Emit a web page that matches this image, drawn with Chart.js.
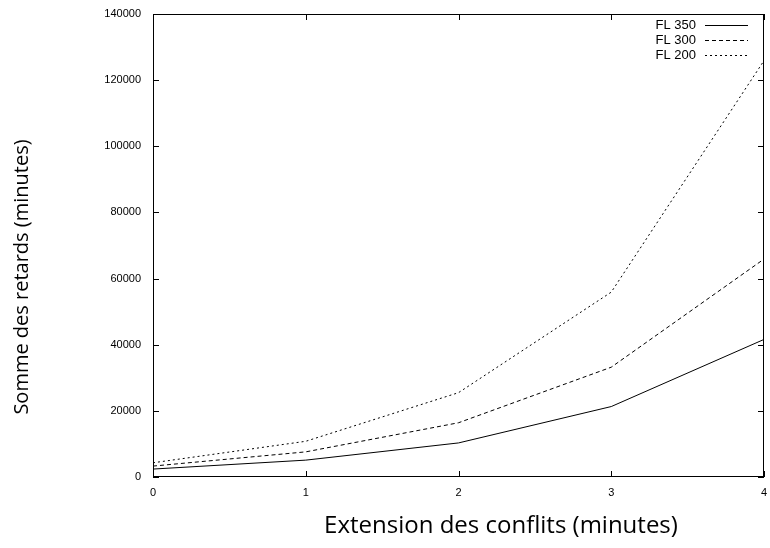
<!DOCTYPE html>
<html><head><meta charset="utf-8">
<script src="https://cdn.jsdelivr.net/npm/chart.js@4/dist/chart.umd.min.js"></script>
<style>html,body{margin:0;padding:0;background:#fff}#wrap{width:770px;height:548px}</style>
</head><body><div id="wrap"><canvas id="c" width="770" height="548"></canvas></div>
<script>
const xValues = [0, 1, 2, 3, 4];
const fl350 = [2400, 5100, 10300, 21300, 41600];
const fl300 = [3300, 7600, 16400, 33200, 65900];
const fl200 = [4300, 10800, 25500, 55900, 125900];
const seriesNames = ["FL 350", "FL 300", "FL 200"];
const yTicks = [0, 20000, 40000, 60000, 80000, 100000, 120000, 140000];
const xTicks = [0, 1, 2, 3, 4];
const xTitle = 'Extension des conflits (minutes)';
const yTitle = 'Somme des retards (minutes)';

const dashes = [[], [4, 3], [2, 3]];
function pts(arr){ return xValues.map((x,i)=>({x:x,y:arr[i]})); }

const frame = {
  id:'frame',
  afterDraw(chart){
    const {ctx, chartArea:a, scales:{x,y}} = chart;
    ctx.save();
    ctx.strokeStyle='#000'; ctx.lineWidth=1;
    ctx.strokeRect(a.left+0.5, a.top+0.5, a.right-a.left-1, a.bottom-a.top-1);
    ctx.beginPath();
    const L=6;
    yTicks.forEach(v=>{const py=Math.round(y.getPixelForValue(v))+0.5;
      ctx.moveTo(a.left,py);ctx.lineTo(a.left+L,py);
      ctx.moveTo(a.right,py);ctx.lineTo(a.right-L,py);});
    xTicks.forEach(v=>{const px=Math.round(x.getPixelForValue(v))+0.5;
      ctx.moveTo(px,a.bottom);ctx.lineTo(px,a.bottom-L);
      ctx.moveTo(px,a.top);ctx.lineTo(px,a.top+L);});
    ctx.stroke();
    // legend
    ctx.font='13px "Liberation Sans", Arial, sans-serif';
    ctx.fillStyle='#000'; ctx.textAlign='right'; ctx.textBaseline='middle';
    seriesNames.forEach((n,i)=>{
      const yy=25+i*15;
      ctx.fillText(n, 696, yy);
      ctx.beginPath(); ctx.setLineDash(dashes[i]);
      ctx.moveTo(705, yy+0.5); ctx.lineTo(748, yy+0.5); ctx.stroke();
    });
    ctx.setLineDash([]);
    // axis titles
    ctx.textAlign='center'; ctx.textBaseline='middle';
    ctx.font='24px "Open Sans", sans-serif';
    ctx.fillText(xTitle, 501, 526);
    ctx.translate(22, 277); ctx.rotate(-Math.PI/2);
    ctx.font='20px "Open Sans", sans-serif';
    ctx.fillText(yTitle, 0, 0);
    ctx.restore();
  }
};

const tickFont = {family:'"Liberation Sans", Arial, sans-serif', size:11};

new Chart(document.getElementById('c'), {
  type:'line',
  data:{datasets:[fl350,fl300,fl200].map((d,i)=>({
    label:seriesNames[i], data:pts(d), borderColor:'#000', borderWidth:1,
    borderDash:dashes[i], pointRadius:0, fill:false, tension:0
  }))},
  options:{
    responsive:false, animation:false, devicePixelRatio:1,
    layout:{padding:{top:14,right:6,left:0,bottom:0}},
    plugins:{legend:{display:false}, tooltip:{enabled:false}},
    scales:{
      x:{type:'linear', min:0, max:4,
        afterFit(s){s.height=71; s.paddingLeft=0; s.paddingRight=0;},
        afterBuildTicks(s){s.ticks=xTicks.map(v=>({value:v}));},
        grid:{display:false, drawTicks:false}, border:{display:false},
        ticks:{color:'#000', font:tickFont, padding:9, maxRotation:0}
      },
      y:{type:'linear', min:0, max:140000,
        afterFit(s){s.width=153; s.paddingTop=0; s.paddingBottom=0;},
        afterBuildTicks(s){s.ticks=yTicks.map(v=>({value:v}));},
        grid:{display:false, drawTicks:false}, border:{display:false},
        ticks:{color:'#000', font:tickFont, padding:12, callback:v=>String(v)}
      }
    }
  },
  plugins:[frame]
});
</script></body></html>
